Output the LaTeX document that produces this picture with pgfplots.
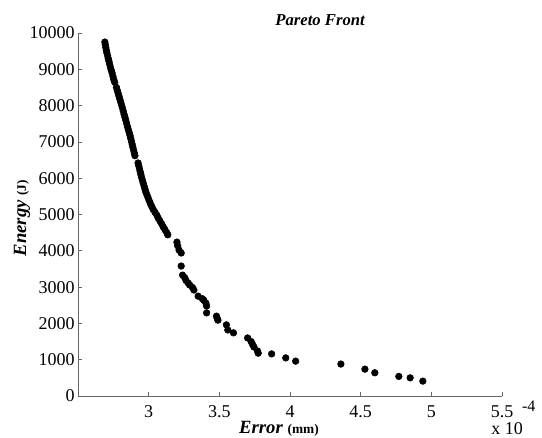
\documentclass[border=0pt]{standalone}
\usepackage{pgfplots}
\pgfplotsset{compat=1.18}
\usepackage{fontspec}
\setmainfont{Liberation Serif}
\begin{document}
\begin{tikzpicture}
\begin{axis}[
  scale only axis,
  width=318pt, height=272.25pt,
  at={(0,0)}, anchor=origin,
  xmin=2.5, xmax=5.5, ymin=0, ymax=10000,
  axis x line*=bottom, axis y line*=left,
  axis line style={draw=gray!80!black, line width=0.6pt},
  tick style={draw=gray!80!black, line width=0.6pt},
  tick align=inside, major tick length=3pt,
  xtick={3,3.5,4,4.5,5,5.5},
  xticklabels={3,3.5,4,4.5,5,5.5},
  ytick={0,1000,...,10000},
  /pgf/number format/assume math mode=true,
  /pgf/number format/set thousands separator={},
  scaled y ticks=false,
  tick label style={font=\fontsize{13.5}{16}\selectfont},
  yticklabel style={xshift=1pt},
  xticklabel style={yshift=-4pt},
  xlabel={\fontsize{14}{16}\selectfont\textbf{\textit{Error}} \fontsize{10}{12}\selectfont\textbf{(mm)}},
  xlabel style={at={(axis description cs:0.474,-0.089)}, anchor=center},
  ylabel={\fontsize{14}{16}\selectfont\textbf{\textit{Energy}} \fontsize{10}{12}\selectfont\textbf{(J)}},
  ylabel style={at={(axis description cs:-0.132,0.49)}, anchor=center},
  clip=false,
]
\addplot[only marks, mark=*, mark size=2.5pt, black] coordinates {
(2.690,9750) (2.693,9680) (2.697,9600) (2.700,9530) (2.704,9460) (2.709,9380)
(2.714,9300) (2.719,9220) (2.724,9140) (2.729,9060) (2.735,8980) (2.741,8900)
(2.747,8810) (2.753,8720) (2.760,8640) (2.772,8500) (2.778,8420) (2.784,8340)
(2.790,8260) (2.796,8180) (2.802,8100) (2.808,8020) (2.814,7940) (2.820,7850)
(2.826,7760) (2.832,7680) (2.838,7600) (2.844,7510) (2.850,7420) (2.856,7340)
(2.862,7260) (2.868,7180) (2.873,7100) (2.878,7020) (2.883,6940) (2.888,6860)
(2.893,6780) (2.898,6700) (2.903,6620) (2.925,6420) (2.930,6340) (2.935,6260)
(2.940,6180) (2.945,6100) (2.950,6020) (2.956,5940) (2.962,5860) (2.968,5780)
(2.974,5700) (2.980,5620) (2.988,5540) (2.996,5460) (3.004,5380) (3.012,5300)
(3.022,5220) (3.032,5140) (3.045,5060) (3.058,4980) (3.068,4900) (3.080,4820)
(3.092,4740) (3.103,4660) (3.115,4580) (3.128,4500) (3.135,4440)
(3.200,4240) (3.205,4140) (3.215,4020) (3.230,3940) (3.230,3580) (3.240,3330)
(3.255,3260) (3.265,3180) (3.280,3110) (3.290,3060) (3.310,2990) (3.320,2920)
(3.350,2750) (3.380,2680) (3.390,2640) (3.405,2560) (3.410,2480) (3.410,2290)
(3.480,2200) (3.485,2140) (3.490,2090) (3.550,1960) (3.560,1820) (3.600,1740)
(3.700,1600) (3.725,1500) (3.735,1420) (3.745,1350) (3.770,1240) (3.775,1180)
(3.870,1160) (3.970,1050) (4.040,960) (4.360,880) (4.530,740) (4.600,640)
(4.770,540) (4.850,500) (4.940,410)
};
\node[font=\fontsize{12.5}{14}\selectfont\bfseries\itshape] at (axis description cs:0.571,1.036) {Pareto Front};
\node[font=\fontsize{13.5}{16}\selectfont] at (axis description cs:1.012,-0.089) {x 10};
\node[font=\fontsize{12}{14}\selectfont] at (axis description cs:1.063,-0.028) {-4};
\end{axis}
\pgfresetboundingbox
\path (-58.5pt,-30.75pt) rectangle (348pt,297pt);
\end{tikzpicture}
\end{document}
